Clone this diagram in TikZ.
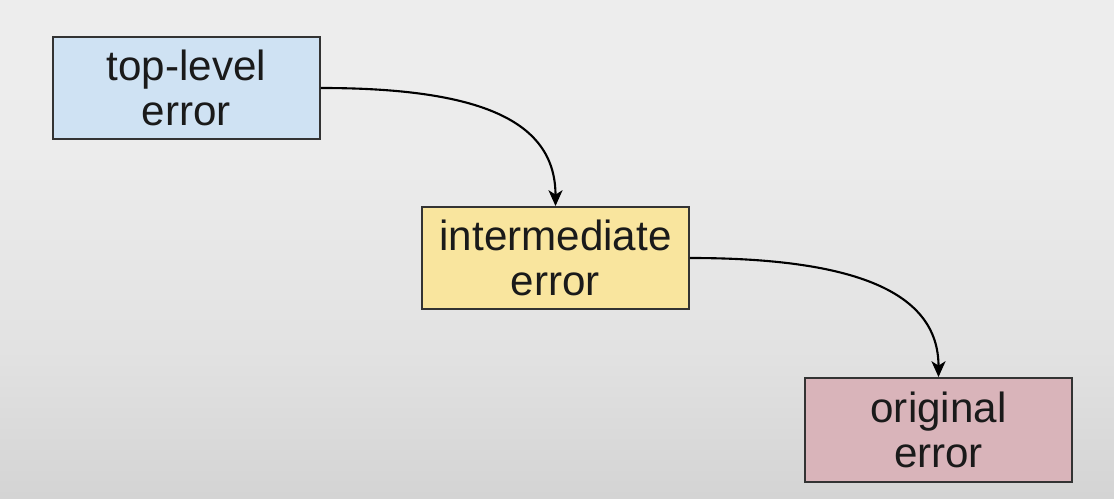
\documentclass[tikz,border=0pt]{standalone}
\usepackage{fontspec}
\setmainfont{Liberation Sans}
\usetikzlibrary{arrows.meta}
\definecolor{bgbot}{HTML}{B8B8B8}
\definecolor{bgl1}{HTML}{CFCFCF}
\definecolor{bgl2}{HTML}{E2E2E2}
\definecolor{bgl3}{HTML}{ECECEC}
\definecolor{bgtop}{HTML}{F0F0F0}
\definecolor{boxblue}{HTML}{CFE2F3}
\definecolor{boxyellow}{HTML}{F9E59E}
\definecolor{boxpink}{HTML}{D9B4BA}
\definecolor{edgecol}{HTML}{333333}
\definecolor{txtcol}{HTML}{1A1A1A}
\pgfdeclareverticalshading{bgshade}{100bp}{color(0bp)=(bgbot); color(20bp)=(bgl1); color(40bp)=(bgl2); color(60bp)=(bgl3); color(100bp)=(bgtop)}
\tikzset{
  errbox/.style={draw=edgecol, line width=1.1pt, minimum width=5.34cm, minimum height=2.04cm,
    align=center, text=txtcol, font=\fontsize{24}{25.5}\selectfont, inner sep=0pt},
  link/.style={draw=black, line width=1.2pt, -{Stealth[length=9pt,width=8pt,inset=2.5pt]}}
}
\begin{document}
\begin{tikzpicture}[x=0.02cm,y=-0.02cm]
\useasboundingbox (0,0) rectangle (1114,499);
\shade[shading=bgshade] (0,0) rectangle (1114,499);
\node[errbox, fill=boxblue] (top) at (186.5,88) {top-level\\error};
\node[errbox, fill=boxyellow] (mid) at (555.5,258) {intermediate\\error};
\node[errbox, fill=boxpink, minimum height=2.08cm] (orig) at (938.5,430) {original\\error};
\draw[link] (top.east) ++(0,0) .. controls +(160,0) and +(0,-85) .. (mid.north);
\draw[link] (mid.east) .. controls +(165,0) and +(0,-85) .. (orig.north);
\end{tikzpicture}
\end{document}
